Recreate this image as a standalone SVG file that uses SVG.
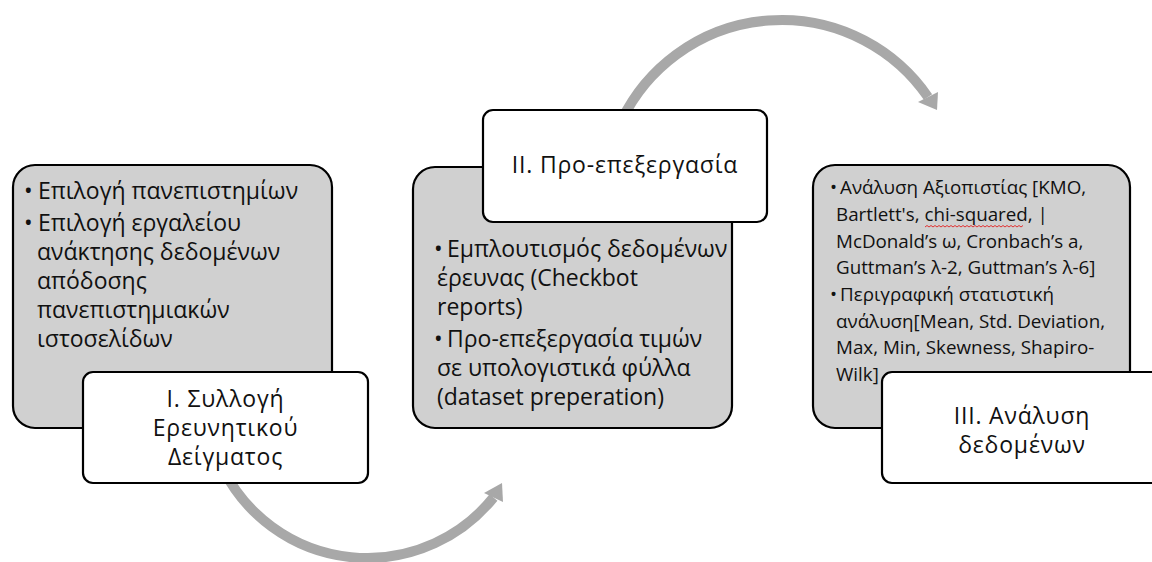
<svg xmlns="http://www.w3.org/2000/svg" width="1152" height="562" viewBox="0 0 1152 562">
<style>
.bg{fill:#ffffff}
.grey{fill:#d0d0d0;stroke:#000;stroke-width:2.2}
.label{fill:#ffffff;stroke:#000;stroke-width:2.2}
.arc{fill:none;stroke:#a8a8a8;stroke-width:10}
.head{fill:#a8a8a8}
.t{font-family:"Open Sans","Noto Sans","Liberation Sans",sans-serif;font-size:23px;fill:#111}
.tl{font-family:"Open Sans","Noto Sans","Liberation Sans",sans-serif;font-size:23px;letter-spacing:0.8px;fill:#111;text-anchor:middle}
.ts{font-family:"Open Sans","Noto Sans","Liberation Sans",sans-serif;font-size:18.8px;fill:#111}
.wavy{fill:none;stroke:#e03030;stroke-width:1}
</style>
<rect class="bg" x="0" y="0" width="1152" height="562"/>
<g id="connectors">
<path class="arc" d="M 223.5 470 A 161.7 161.7 0 0 0 493.5 497.5"/>
<polygon class="head" points="502,483 484,493 503,502"/>
<path class="arc" d="M 621.8 120 A 177.7 177.7 0 0 1 928 97"/>
<polygon class="head" points="937,110 918,102 938,92"/>
</g>
<g id="step1">
<rect class="grey" x="13" y="165" width="319" height="263" rx="22"/>
<text class="t" x="24" y="199">•</text>
<text class="t" x="38" y="199">Επιλογή πανεπιστημίων</text>
<text class="t" x="24" y="231">•</text>
<text class="t"><tspan x="38" y="231">Επιλογή εργαλείου</tspan><tspan x="37" y="260">ανάκτησης δεδομένων</tspan><tspan x="37" y="289">απόδοσης</tspan><tspan x="37" y="318">πανεπιστημιακών</tspan><tspan x="37" y="347">ιστοσελίδων</tspan></text>
</g>
<g id="label1">
<rect class="label" x="83" y="372" width="285" height="111" rx="10"/>
<text class="tl"><tspan x="225.5" y="407">I. Συλλογή</tspan><tspan x="225.5" y="436">Ερευνητικού</tspan><tspan x="225.5" y="465">Δείγματος</tspan></text>
</g>
<g id="step2">
<rect class="grey" x="413" y="167" width="319" height="261" rx="22"/>
<text class="t" x="434" y="257">•</text>
<text class="t"><tspan x="447" y="257">Εμπλουτισμός δεδομένων</tspan><tspan x="437" y="286">έρευνας (Checkbot</tspan><tspan x="437" y="315">reports)</tspan></text>
<text class="t" x="434" y="347">•</text>
<text class="t"><tspan x="447" y="347">Προ-επεξεργασία τιμών</tspan><tspan x="437" y="376">σε υπολογιστικά φύλλα</tspan><tspan x="437" y="405">(dataset preperation)</tspan></text>
</g>
<g id="label2">
<rect class="label" x="483" y="110" width="284" height="112" rx="10"/>
<text class="tl" x="625" y="173">II. Προ-επεξεργασία</text>
</g>
<g id="step3">
<rect class="grey" x="813" y="165" width="317" height="263" rx="22"/>
<text class="ts" x="830" y="194">•</text>
<text class="ts"><tspan x="840" y="194">Ανάλυση Αξιοπιστίας [KMO,</tspan><tspan x="836" y="221">Bartlett's, chi-squared, |</tspan><tspan x="836" y="248">McDonald’s ω, Cronbach’s a,</tspan><tspan x="836" y="274">Guttman’s λ-2, Guttman’s λ-6]</tspan></text>
<text class="ts" x="830" y="301">•</text>
<text class="ts"><tspan x="840" y="301">Περιγραφική στατιστική</tspan><tspan x="836" y="328">ανάλυση[Mean, Std. Deviation,</tspan><tspan x="836" y="354">Max, Min, Skewness, Shapiro-</tspan><tspan x="836" y="381">Wilk]</tspan></text>
<path class="wavy" d="M925 227 l2 -1.5 l2 1.5 l2 -1.5 l2 1.5 l2 -1.5 l2 1.5 l2 -1.5 l2 1.5 l2 -1.5 l2 1.5 l2 -1.5 l2 1.5 l2 -1.5 l2 1.5 l2 -1.5 l2 1.5 l2 -1.5 l2 1.5 l2 -1.5 l2 1.5 l2 -1.5 l2 1.5 l2 -1.5 l2 1.5 l2 -1.5 l2 1.5 l2 -1.5 l2 1.5 l2 -1.5 l2 1.5 l2 -1.5 l2 1.5 l2 -1.5 l2 1.5 l2 -1.5 l2 1.5 l2 -1.5 l2 1.5 l2 -1.5 l2 1.5 l2 -1.5 l2 1.5 l2 -1.5 l2 1.5 l2 -1.5 l2 1.5 l2 -1.5 l2 1.5 l2 -1.5"/>
</g>
<g id="label3">
<rect class="label" x="882" y="372" width="285" height="111" rx="10"/>
<text class="tl"><tspan x="1022" y="424">III. Ανάλυση</tspan><tspan x="1022" y="453">δεδομένων</tspan></text>
</g>
</svg>
